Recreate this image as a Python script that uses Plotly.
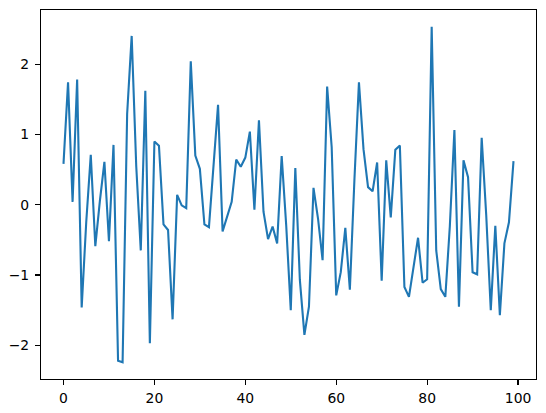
import plotly.graph_objects as go

x_values = list(range(100))
y_values = [
    0.58, 1.74, 0.04, 1.78, -1.46, -0.25, 0.71, -0.59, 0.05, 0.61,
    -0.52, 0.85, -2.22, -2.24, 1.29, 2.40, 0.55, -0.65, 1.62, -1.97,
    0.90, 0.84, -0.28, -0.36, -1.63, 0.14, -0.01, -0.05, 2.04, 0.70,
    0.51, -0.28, -0.32, 0.55, 1.42, -0.38, -0.18, 0.04, 0.64, 0.54,
    0.67, 1.04, -0.07, 1.20, -0.10, -0.49, -0.31, -0.55, 0.69, -0.30,
    -1.50, 0.52, -1.07, -1.85, -1.45, 0.24, -0.20, -0.79, 1.68, 0.82,
    -1.29, -0.96, -0.33, -1.21, 0.35, 1.74, 0.79, 0.25, 0.19, 0.60,
    -1.08, 0.63, -0.18, 0.78, 0.84, -1.17, -1.31, -0.88, -0.47, -1.11,
    -1.06, 2.53, -0.65, -1.20, -1.31, -0.30, 1.06, -1.45, 0.63, 0.39,
    -0.96, -0.99, 0.95, -0.15, -1.50, -0.30, -1.57, -0.55, -0.25, 0.62,
]
x_ticks = [0, 20, 40, 60, 80, 100]
y_ticks = [-2, -1, 0, 1, 2]

ymin, ymax = min(y_values), max(y_values)
ypad = 0.05 * (ymax - ymin)
xpad = 0.05 * (x_values[-1] - x_values[0])

fig = go.Figure(
    go.Scatter(
        x=x_values, y=y_values, mode="lines",
        line=dict(color="#1f77b4", width=2.1),
        hoverinfo="skip",
    )
)

axis_common = dict(
    showline=True, linecolor="black", linewidth=1.1, mirror=True,
    ticks="outside", ticklen=5, tickwidth=1.1, tickcolor="black",
    showgrid=False, zeroline=False, automargin=False,
    tickfont=dict(family="DejaVu Sans", size=13.9, color="black"),
)

fig.update_layout(
    width=546, height=413,
    margin=dict(l=40.5, r=10, t=10, b=34, pad=0),
    paper_bgcolor="white", plot_bgcolor="white",
    showlegend=False,
    xaxis=dict(range=[x_values[0] - xpad, x_values[-1] + xpad],
               tickvals=x_ticks, ticktext=[str(t) for t in x_ticks],
               ticklabelstandoff=1, **axis_common),
    yaxis=dict(range=[ymin - ypad, ymax + ypad],
               tickvals=y_ticks, ticktext=[("\u2212" + str(-t)) if t < 0 else str(t) for t in y_ticks],
               ticklabelstandoff=3, **axis_common),
)

fig.write_html(
    "out.html",
    config={"displayModeBar": False, "staticPlot": True},
    post_script="document.body.style.margin='0';document.body.style.overflow='hidden';",
)
